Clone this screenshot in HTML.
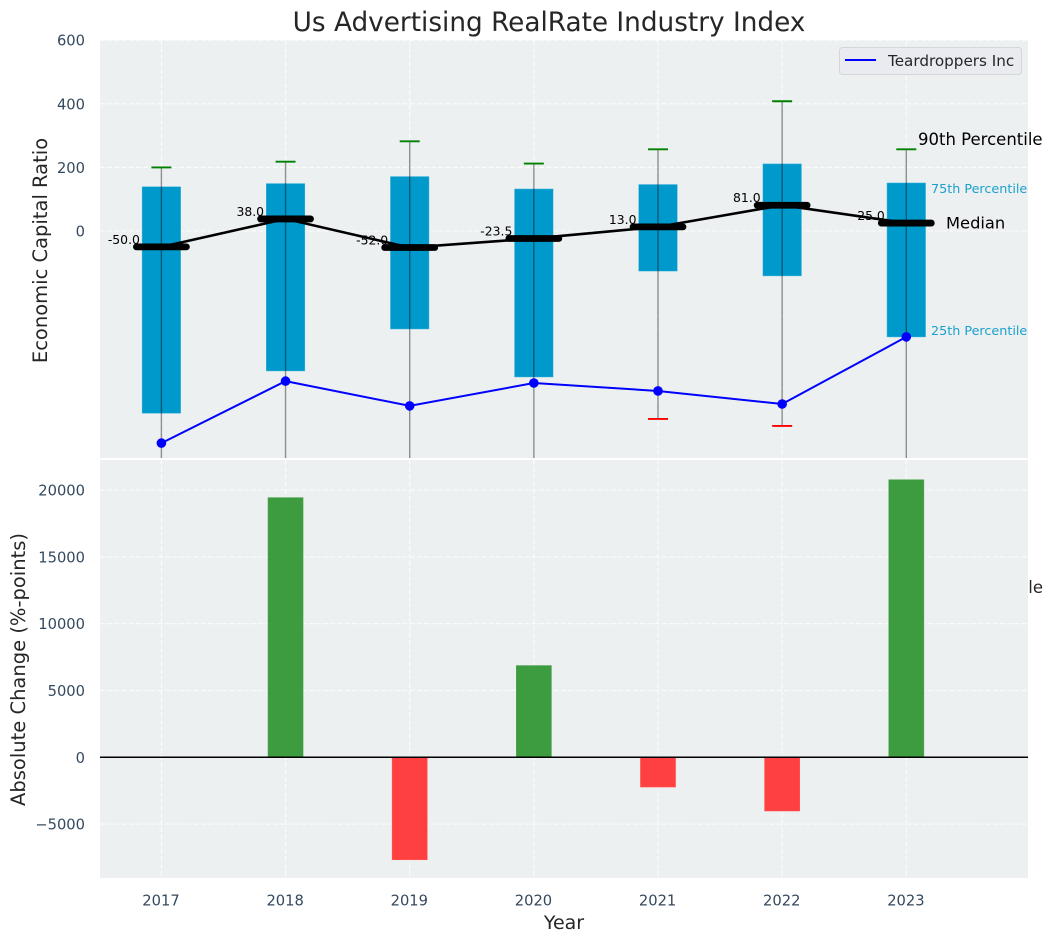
<!DOCTYPE html>
<html>
<head>
<meta charset="utf-8">
<title>Us Advertising RealRate Industry Index</title>
<style>
html,body{margin:0;padding:0;background:#fff;width:1053px;height:942px;overflow:hidden}
svg{display:block}
text{font-family:"DejaVu Sans","Liberation Sans",sans-serif}
</style>
</head>
<body>
<svg id="chart" xmlns="http://www.w3.org/2000/svg" width="1053" height="942" viewBox="0 0 1053 942"></svg>
<script>
const years = [2017, 2018, 2019, 2020, 2021, 2022, 2023];
const p90 = [200, 218, 282, 212, 257, 408, 257];
const p75 = [140, 150, 172, 133, 147, 212, 152];
const median = [-50, 38, -52, -23.5, 13, 81, 25];
const medianLabels = ['-50.0', '38.0', '-52.0', '-23.5', '13.0', '81.0', '25.0'];
const p25 = [-574, -441, -309, -460, -127, -142, -334];
const p10 = [-800, -760, -790, -770, -591, -613, -780];
const company = [-667, -472, -550, -478, -503, -544, -333];
const absoluteChange = [0, 19460, -7690, 6890, -2250, -4040, 20800];
const topTicks = [0, 200, 400, 600];
const bottomTicks = [-5000, 0, 5000, 10000, 15000, 20000];
const bottomTickLabels = ['\u22125000', '0', '5000', '10000', '15000', '20000'];

const NS = 'http://www.w3.org/2000/svg';
const svg = document.getElementById('chart');
const PL = 100, PR = 1028;
const TT = 40, TB = 458, BT = 460, BB = 878;
const X0 = 161.4, XSTEP = 124.15;
const xPos = v => X0 + (v - years[0]) * XSTEP;
const yTop = v => 231 - v * 0.318;
const yBot = v => 757.3 - v * 66.8 / 5000;

function el(tag, attrs, parent, txt) {
  const e = document.createElementNS(NS, tag);
  for (const k in attrs) e.setAttribute(k, attrs[k]);
  if (txt !== undefined) e.textContent = txt;
  (parent || svg).appendChild(e);
  return e;
}
function named(e, name, inter) {
  
  
  return e;
}

const defs = el('defs', {});
const cp1 = el('clipPath', {id: 'clip-top'}, defs);
el('rect', {x: PL, y: TT, width: PR - PL, height: TB - TT}, cp1);
const cp2 = el('clipPath', {id: 'clip-bottom'}, defs);
el('rect', {x: PL, y: BT, width: PR - PL, height: BB - BT}, cp2);

const TICK = '#34495e', INK = '#262626', GRID = {stroke: '#ffffff', 'stroke-width': 1.1, 'stroke-dasharray': '5 2.2', opacity: 0.85};

/* title */
let n = el('text', {x: 549, y: 31, 'text-anchor': 'middle', 'font-size': 26.3, fill: INK}, svg, 'Us Advertising RealRate Industry Index');
named(n, 'chart-title', false);

/* top panel background */
n = el('rect', {x: PL, y: TT, width: PR - PL, height: TB - TT, fill: '#ecf0f1'});
named(n, 'top-panel-background', false);

/* annotation hidden behind the lower panel */
n = el('text', {x: 1043, y: 593, 'text-anchor': 'end', 'font-size': 16.5, fill: INK}, svg, '90th Percentile');
named(n, 'clipped-percentile-annotation', false);

/* bottom panel background */
n = el('rect', {x: PL, y: BT, width: PR - PL, height: BB - BT, fill: '#ecf0f1'});
named(n, 'bottom-panel-background', false);

/* grids */
const gridTop = named(el('g', GRID), 'top-grid', false);
const gridBot = named(el('g', GRID), 'bottom-grid', false);
topTicks.forEach(t => {
  n = el('line', {x1: PL, x2: PR, y1: yTop(t), y2: yTop(t)}, gridTop);
  named(n, 'top-grid-line-' + t, false);
});
bottomTicks.forEach(t => {
  n = el('line', {x1: PL, x2: PR, y1: yBot(t), y2: yBot(t)}, gridBot);
  named(n, 'bottom-grid-line-' + t, false);
});
years.forEach(yr => {
  n = el('line', {x1: xPos(yr), x2: xPos(yr), y1: TT, y2: TB}, gridTop);
  named(n, 'top-grid-line-' + yr, false);
  n = el('line', {x1: xPos(yr), x2: xPos(yr), y1: BT, y2: BB}, gridBot);
  named(n, 'bottom-grid-line-' + yr, false);
});

/* top panel marks */
const topGroup = el('g', {'clip-path': 'url(#clip-top)'});
named(topGroup, 'percentile-plot', false);
const BOXW = 0.315 * XSTEP, CAPW = 20, MEDW = 50;

years.forEach((yr, i) => {
  const cx = xPos(yr);
  n = el('rect', {x: cx - BOXW / 2, y: yTop(p75[i]), width: BOXW, height: yTop(p25[i]) - yTop(p75[i]), fill: '#0099cc', stroke: '#ffffff', 'stroke-opacity': 0.3, 'stroke-width': 1}, topGroup);
  named(n, 'box-' + yr, false);
});
years.forEach((yr, i) => {
  const cx = xPos(yr);
  n = el('line', {x1: cx, x2: cx, y1: yTop(p90[i]), y2: yTop(p10[i]), stroke: '#000', 'stroke-opacity': 0.42, 'stroke-width': 1.4}, topGroup);
  named(n, 'whisker-' + yr, false);
  n = el('line', {x1: cx - CAPW / 2, x2: cx + CAPW / 2, y1: yTop(p90[i]), y2: yTop(p90[i]), stroke: '#008000', 'stroke-width': 1.9}, topGroup);
  named(n, 'p90-cap-' + yr, false);
  n = el('line', {x1: cx - CAPW / 2, x2: cx + CAPW / 2, y1: yTop(p10[i]), y2: yTop(p10[i]), stroke: '#ff0000', 'stroke-width': 1.9}, topGroup);
  named(n, 'p10-cap-' + yr, false);
});

n = el('polyline', {points: years.map((yr, i) => xPos(yr) + ',' + yTop(median[i])).join(' '), fill: 'none', stroke: '#000', 'stroke-width': 2.6}, topGroup);
named(n, 'median-line', false);

years.forEach((yr, i) => {
  const cx = xPos(yr);
  n = el('line', {x1: cx - MEDW / 2, x2: cx + MEDW / 2, y1: yTop(median[i]), y2: yTop(median[i]), stroke: '#000', 'stroke-width': 6.8, 'stroke-linecap': 'round'}, topGroup);
  named(n, 'median-marker-' + yr, false);
});

n = el('polyline', {points: years.map((yr, i) => xPos(yr) + ',' + yTop(company[i])).join(' '), fill: 'none', stroke: '#0000ff', 'stroke-width': 2}, topGroup);
named(n, 'teardroppers-line', false);
years.forEach((yr, i) => {
  n = el('circle', {cx: xPos(yr), cy: yTop(company[i]), r: 4.8, fill: '#0000ff'}, topGroup);
  named(n, 'teardroppers-point-' + yr, false);
});

/* median labels */
years.forEach((yr, i) => {
  n = el('text', {x: xPos(yr) - 21.5, y: yTop(median[i]) - 3, 'text-anchor': 'end', 'font-size': 12.4, fill: '#000'}, svg, medianLabels[i]);
  named(n, 'median-label-' + yr, false);
});

/* bottom panel marks */
const bottomGroup = el('g', {'clip-path': 'url(#clip-bottom)'});
named(bottomGroup, 'absolute-change-bars', false);
const BARW = 0.2875 * XSTEP;
years.forEach((yr, i) => {
  const v = absoluteChange[i];
  if (v === 0) return;
  const y1 = Math.min(yBot(v), yBot(0));
  const h = Math.abs(yBot(v) - yBot(0));
  n = el('rect', {x: xPos(yr) - BARW / 2, y: y1, width: BARW, height: h, fill: v > 0 ? '#3d9c3f' : '#ff4040', stroke: '#ffffff', 'stroke-opacity': 0.15, 'stroke-width': 1}, bottomGroup);
  named(n, 'change-bar-' + yr, false);
});
n = el('line', {x1: PL, x2: PR, y1: yBot(0), y2: yBot(0), stroke: '#000', 'stroke-width': 1.5});
named(n, 'zero-line', false);

/* tick labels */
topTicks.forEach(t => {
  n = el('text', {x: 85, y: yTop(t) + 5.5, 'text-anchor': 'end', 'font-size': 14.7, fill: TICK}, svg, String(t));
  named(n, 'top-y-tick-' + t, false);
});
bottomTicks.forEach((t, i) => {
  n = el('text', {x: 85, y: yBot(t) + 5.5, 'text-anchor': 'end', 'font-size': 14.7, fill: TICK}, svg, bottomTickLabels[i]);
  named(n, 'bottom-y-tick-' + t, false);
});
years.forEach(yr => {
  n = el('text', {x: xPos(yr) - 0.4, y: 905.5, 'text-anchor': 'middle', 'font-size': 14.7, fill: TICK}, svg, String(yr));
  named(n, 'x-tick-' + yr, false);
});

/* axis titles */
n = el('text', {transform: 'translate(47 250.5) rotate(-90)', 'text-anchor': 'middle', 'font-size': 19.5, fill: INK}, svg, 'Economic Capital Ratio');
named(n, 'top-y-axis-title', false);
n = el('text', {transform: 'translate(25 669.5) rotate(-90)', 'text-anchor': 'middle', 'font-size': 19.5, fill: INK}, svg, 'Absolute Change (%-points)');
named(n, 'bottom-y-axis-title', false);
n = el('text', {x: 564, y: 929, 'text-anchor': 'middle', 'font-size': 19, fill: INK}, svg, 'Year');
named(n, 'x-axis-title', false);

/* percentile annotations */
n = el('text', {x: 918, y: 145, 'font-size': 16.5, fill: '#000'}, svg, '90th Percentile');
named(n, 'p90-annotation', false);
n = el('text', {x: 931, y: 193, 'font-size': 12.75, fill: '#1ba0cc'}, svg, '75th Percentile');
named(n, 'p75-annotation', false);
n = el('text', {x: 946, y: 228.5, 'font-size': 16.3, fill: '#000'}, svg, 'Median');
named(n, 'median-annotation', false);
n = el('text', {x: 931, y: 335, 'font-size': 12.75, fill: '#1ba0cc'}, svg, '25th Percentile');
named(n, 'p25-annotation', false);

/* legend */
const legend = named(el('g', {}), 'legend', false);
n = el('rect', {x: 839.5, y: 47.5, width: 182, height: 27, rx: 3, fill: '#e9ebf1', stroke: '#d4d6d8', 'stroke-width': 1}, legend);
named(n, 'legend-frame', false);
n = el('line', {x1: 845, x2: 876, y1: 60, y2: 60, stroke: '#0000ff', 'stroke-width': 2}, legend);
named(n, 'legend-swatch', false);
n = el('text', {x: 888, y: 66, 'font-size': 15.2, fill: INK}, legend, 'Teardroppers Inc');
named(n, 'legend-entry', false);
</script>
</body>
</html>
